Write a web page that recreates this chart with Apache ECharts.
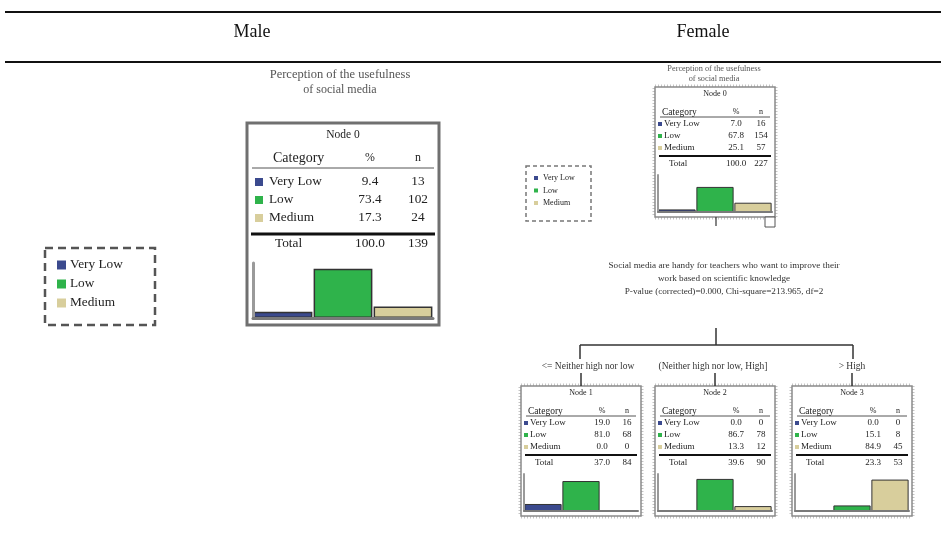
<!DOCTYPE html>
<html>
<head>
<meta charset="utf-8">
<script src="https://cdn.jsdelivr.net/npm/echarts@6/dist/echarts.min.js"></script>
<style>
html,body{margin:0;padding:0;background:#fff;}
#c{width:941px;height:544px;}
</style>
</head>
<body>
<div id="c"></div>
<script>
// ---------- DATA ----------
const categories = ['Very Low', 'Low', 'Medium'];
const columnHeaders = ['Category', '%', 'n'];
const panelTitles = ['Male', 'Female'];
const targetTitle = ['Perception of the usefulness', 'of social media'];

const maleNode0Pct = [9.4, 73.4, 17.3];
const maleNode0N = [13, 102, 24];
const maleNode0Total = [100.0, 139];

const femaleNode0Pct = [7.0, 67.8, 25.1];
const femaleNode0N = [16, 154, 57];
const femaleNode0Total = [100.0, 227];

const femaleNode1Pct = [19.0, 81.0, 0.0];
const femaleNode1N = [16, 68, 0];
const femaleNode1Total = [37.0, 84];

const femaleNode2Pct = [0.0, 86.7, 13.3];
const femaleNode2N = [0, 78, 12];
const femaleNode2Total = [39.6, 90];

const femaleNode3Pct = [0.0, 15.1, 84.9];
const femaleNode3N = [0, 8, 45];
const femaleNode3Total = [23.3, 53];

const splitText = [
  'Social media are handy for teachers who want to improve their',
  'work based on scientific knowledge',
  'P-value (corrected)=0.000, Chi-square=213.965, df=2'
];
const branchLabels = ['<= Neither high nor low', '(Neither high nor low, High]', '> High'];

// ---------- STYLE ----------
const colors = ['#3b4a8e', '#2fb34b', '#d8ce9c'];
const FONT = '"Liberation Serif", "DejaVu Serif", serif';
const TXT = '#222';

const bigLayout = {
  w: 192, h: 202, nodeY: 12, headerY: 35, underY: 45, rows: [59, 77, 95],
  thickY: 111, totalY: 121, histTop: 140, histBottom: 195,
  catX: 26, swX: 8, sw: 8, labX: 22, totX: 28, pctX: 123, nX: 171,
  hl: 6, hr: 6, fsNode: 11.5, fsHead: 14, fsRow: 13.3, yMax: 82,
  stroke: '#707070', lw: 3, axisW: 3, barBorder: 1.5
};
const smallLayout = {
  w: 120, h: 130, nodeY: 7, headerY: 25, underY: 30, rows: [37, 49, 61],
  thickY: 69, totalY: 77, histTop: 88, histBottom: 125,
  catX: 7, swX: 3, sw: 4, labX: 9, totX: 14, pctX: 81, nX: 106,
  hl: 3, hr: 3, fsNode: 8, fsHead: 9.5, fsRow: 9, yMax: 100,
  stroke: '#8a8a8a', lw: 1.5, axisW: 2, barBorder: 1
};

const nodes = [
  { label: 'Node 0', x: 247, y: 123, L: bigLayout, pct: maleNode0Pct, n: maleNode0N, total: maleNode0Total },
  { label: 'Node 0', x: 655, y: 87, L: smallLayout, pct: femaleNode0Pct, n: femaleNode0N, total: femaleNode0Total },
  { label: 'Node 1', x: 521, y: 386, L: smallLayout, pct: femaleNode1Pct, n: femaleNode1N, total: femaleNode1Total },
  { label: 'Node 2', x: 655, y: 386, L: smallLayout, pct: femaleNode2Pct, n: femaleNode2N, total: femaleNode2Total },
  { label: 'Node 3', x: 792, y: 386, L: smallLayout, pct: femaleNode3Pct, n: femaleNode3N, total: femaleNode3Total }
];

function txt(text, x, y, size, align, color) {
  return { type: 'text', silent: true, z: 10, style: {
    text: text, x: x, y: y, fill: color || TXT, fontSize: size, fontFamily: FONT,
    align: align || 'left', verticalAlign: 'middle', textAlign: align || 'left', textVerticalAlign: 'middle' } };
}
function line(x1, y1, x2, y2, w, color, dash) {
  return { type: 'line', silent: true, z: 5, shape: { x1: x1, y1: y1, x2: x2, y2: y2 },
    style: { stroke: color || '#222', lineWidth: w || 1, lineDash: dash || null } };
}
function rect(x, y, w, h, opt) {
  return { type: 'rect', silent: true, z: opt.z || 4, shape: { x: x, y: y, width: w, height: h },
    style: Object.assign({ fill: 'none' }, opt.style) };
}

const graphics = [];
const grids = [], xAxes = [], yAxes = [], series = [];

// panel headers and rules
graphics.push(line(5, 12, 941, 12, 2, '#111'));
graphics.push(line(5, 62, 941, 62, 2, '#111'));
graphics.push(txt(panelTitles[0], 252, 32, 18, 'center', '#111'));
graphics.push(txt(panelTitles[1], 703, 32, 18, 'center', '#111'));

// target titles
graphics.push(txt(targetTitle[0], 340, 75, 12.5, 'center', '#555'));
graphics.push(txt(targetTitle[1], 340, 90, 12, 'center', '#555'));
graphics.push(txt(targetTitle[0], 714, 69, 8.3, 'center', '#555'));
graphics.push(txt(targetTitle[1], 714, 79, 8.3, 'center', '#555'));

nodes.forEach(function (nd, gi) {
  const L = nd.L, x = nd.x, y = nd.y;
  if (L === smallLayout) {
    graphics.push(rect(x, y, L.w, L.h, { style: { stroke: '#c4c4c4', lineWidth: 5, lineDash: [1, 2] }, z: 3 }));
  }
  graphics.push(rect(x, y, L.w, L.h, { style: { stroke: L.stroke, lineWidth: L.lw, fill: '#fff' } }));
  graphics.push(txt(nd.label, x + L.w / 2, y + L.nodeY, L.fsNode, 'center'));
  graphics.push(txt(columnHeaders[0], x + L.catX, y + L.headerY, L.fsHead, 'left'));
  graphics.push(txt(columnHeaders[1], x + L.pctX, y + L.headerY, L.fsHead * 0.85, 'center'));
  graphics.push(txt(columnHeaders[2], x + L.nX, y + L.headerY, L.fsHead * 0.85, 'center'));
  graphics.push(line(x + 5, y + L.underY, x + L.w - 5, y + L.underY, 1, '#555'));
  categories.forEach(function (c, i) {
    const ry = y + L.rows[i];
    graphics.push(rect(x + L.swX, ry - L.sw / 2, L.sw, L.sw, { style: { fill: colors[i], stroke: null }, z: 6 }));
    graphics.push(txt(c, x + L.labX, ry, L.fsRow, 'left'));
    graphics.push(txt(nd.pct[i].toFixed(1), x + L.pctX, ry, L.fsRow, 'center'));
    graphics.push(txt(String(nd.n[i]), x + L.nX, ry, L.fsRow, 'center'));
  });
  graphics.push(line(x + 4, y + L.thickY, x + L.w - 4, y + L.thickY, L === bigLayout ? 3 : 2, '#111'));
  graphics.push(txt('Total', x + L.totX, y + L.totalY, L.fsRow, 'left'));
  graphics.push(txt(nd.total[0].toFixed(1), x + L.pctX, y + L.totalY, L.fsRow, 'center'));
  graphics.push(txt(String(nd.total[1]), x + L.nX, y + L.totalY, L.fsRow, 'center'));

  grids.push({ left: x + L.hl, top: y + L.histTop, width: L.w - L.hl - L.hr, height: L.histBottom - L.histTop, z: 8 });
  xAxes.push({ type: 'category', gridIndex: gi, data: categories, z: 9,
    axisLabel: { show: false }, axisTick: { show: false },
    axisLine: { show: true, lineStyle: { color: '#7a7a7a', width: L.axisW } } });
  yAxes.push({ type: 'value', gridIndex: gi, min: 0, max: L.yMax, z: 9,
    axisLabel: { show: false }, axisTick: { show: false }, splitLine: { show: false },
    axisLine: { show: true, lineStyle: { color: '#9a9a9a', width: L.axisW } } });
  series.push({ type: 'bar', xAxisIndex: gi, yAxisIndex: gi, barCategoryGap: '2%', silent: true, z: 8,
    data: nd.pct.map(function (v, i) {
      return { value: v, itemStyle: { color: colors[i], borderColor: '#333', borderWidth: L.barBorder } };
    }) });
});

// female tree connectors
graphics.push(line(716, 217, 716, 226, 1.2, '#333'));
graphics.push(rect(765, 217, 10, 10, { style: { stroke: '#555', lineWidth: 1, fill: '#fff' }, z: 7 }));
graphics.push(line(768, 222, 772, 222, 1, '#333'));
splitText.forEach(function (t, i) {
  graphics.push(txt(t, 724, 266 + i * 13, 9.2, 'center', '#333'));
});
graphics.push(line(716, 328, 716, 345, 1.5, '#333'));
graphics.push(line(580, 345, 853, 345, 1.5, '#333'));
graphics.push(line(580, 345, 580, 359, 1.5, '#333'));
graphics.push(line(853, 345, 853, 359, 1.5, '#333'));
const branchX = [588, 713, 852];
branchLabels.forEach(function (t, i) {
  graphics.push(txt(t, branchX[i], 366, 9.5, 'center', '#333'));
});
[581, 715, 852].forEach(function (bx) {
  graphics.push(line(bx, 373, bx, 386, 1.5, '#333'));
});

// legends
graphics.push(rect(45, 248, 110, 77, { style: { stroke: '#555', lineWidth: 2.5, lineDash: [8, 5] } }));
categories.forEach(function (c, i) {
  const ly = 265 + i * 19;
  graphics.push(rect(57, ly - 4.5, 9, 9, { style: { fill: colors[i] }, z: 6 }));
  graphics.push(txt(c, 70, ly, 13.3, 'left'));
});
graphics.push(rect(526, 166, 65, 55, { style: { stroke: '#777', lineWidth: 1.5, lineDash: [4, 3] } }));
categories.forEach(function (c, i) {
  const ly = 178 + i * 12.5;
  graphics.push(rect(534, ly - 2, 4, 4, { style: { fill: colors[i] }, z: 6 }));
  graphics.push(txt(c, 543, ly, 8, 'left'));
});

const chart = echarts.init(document.getElementById('c'), null, { renderer: 'canvas' });
chart.setOption({
  animation: false,
  backgroundColor: '#fff',
  grid: grids,
  xAxis: xAxes,
  yAxis: yAxes,
  series: series,
  graphic: { elements: graphics }
});
</script>
</body>
</html>
